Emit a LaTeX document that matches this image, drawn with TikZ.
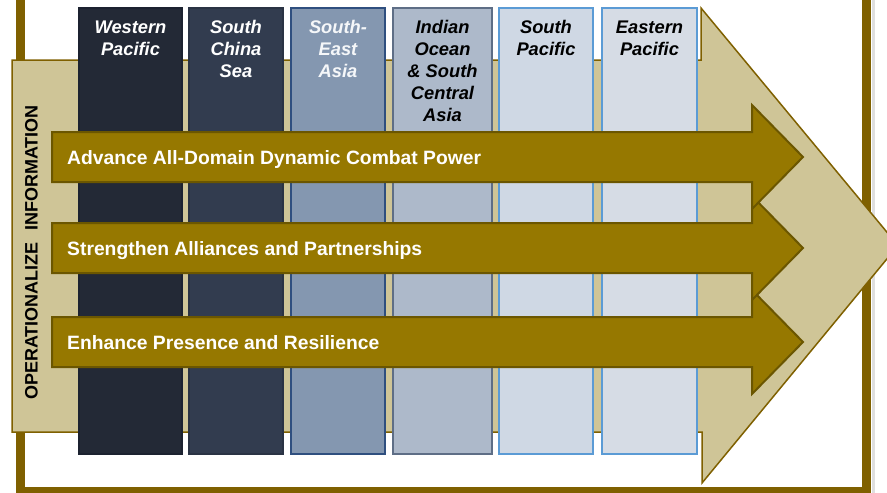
\documentclass[tikz,border=0pt]{standalone}
\usepackage{fontspec}
\setmainfont{Liberation Sans}
\definecolor{framegold}{HTML}{7F6000}
\definecolor{khaki}{HTML}{CFC597}
\definecolor{arrowgold}{HTML}{967800}
\definecolor{arrowline}{HTML}{6B5600}
\definecolor{colA}{HTML}{232936}
\definecolor{colAb}{HTML}{1C2230}
\definecolor{colB}{HTML}{323C4F}
\definecolor{colBb}{HTML}{2A3344}
\definecolor{colC}{HTML}{8497B0}
\definecolor{colCb}{HTML}{2F4F7F}
\definecolor{colD}{HTML}{ADB9CA}
\definecolor{colDb}{HTML}{5E6E86}
\definecolor{colE}{HTML}{CFD8E4}
\definecolor{colF}{HTML}{D6DCE5}
\definecolor{colEb}{HTML}{5B9BD5}
\tikzset{
  colbox/.style={line width=1.2pt},
  collabel/.style={anchor=north, inner sep=0pt, align=center,
    font=\fontsize{18.3}{22}\selectfont\bfseries\itshape},
  goldarrow/.style={fill=arrowgold, draw=arrowline, line width=2pt, line join=miter},
  arrowlabel/.style={anchor=base west, inner sep=0pt, text=white,
    font=\fontsize{19.3}{22}\selectfont\bfseries},
}
\begin{document}
\begin{tikzpicture}[x=1pt,y=-1pt]
\useasboundingbox (0,0) rectangle (887,493);
\begin{scope}
\clip (0,0) rectangle (887,493);
% shadow and frame
\draw[gray!25, line width=3pt] (873,-20) -- (873,497);
\draw[framegold, line width=9pt] (20,-20) rectangle (866,491);
% big arrow
\draw[fill=khaki, draw=framegold, line width=1.5pt, line join=miter]
  (12,60) -- (701,60) -- (701,8) -- (898,245.5) -- (702,483) -- (702,432) -- (12,432) -- cycle;
% columns
\draw[colbox, fill=colA, draw=colAb] (79,8) rectangle (182,454);
\draw[colbox, fill=colB, draw=colBb] (189,8) rectangle (283,454);
\draw[colbox, fill=colC, draw=colCb] (291,8) rectangle (385,454);
\draw[colbox, fill=colD, draw=colDb] (393,8) rectangle (492,454);
\draw[colbox, fill=colE, draw=colEb] (499,8) rectangle (593,454);
\draw[colbox, fill=colF, draw=colEb] (602,8) rectangle (697,454);
% gold arrows
\foreach \c in {342,248,157}{
  \draw[goldarrow] (52,\c-25) -- (752,\c-25) -- (752,\c-52) -- (803,\c)
    -- (752,\c+52) -- (752,\c+25) -- (52,\c+25) -- cycle;
}
\end{scope}
% column labels
\node[collabel, text=white] (wp) at (130.5,20) {\rule{0pt}{13pt}Western\\Pacific};
\node[collabel, text=white] (scs) at (236,20) {\rule{0pt}{13pt}South\\China\\Sea};
\node[collabel, text=white!92!colC] (sea) at (338,20) {\rule{0pt}{13pt}South-\\East\\Asia};
\node[collabel, text=black] (io) at (442.5,20) {\rule{0pt}{13pt}Indian\\Ocean\\\& South\\Central\\Asia};
\node[collabel, text=black] (sp) at (546,20) {\rule{0pt}{13pt}South\\Pacific};
\node[collabel, text=black] (ep) at (649.5,20) {\rule{0pt}{13pt}Eastern\\Pacific};
% arrow labels
\node[arrowlabel] (adv) at (67,164) {Advance All-Domain Dynamic Combat Power};
\node[arrowlabel] (str) at (67,255) {Strengthen Alliances and Partnerships};
\node[arrowlabel] (enh) at (67,349.5) {Enhance Presence and Resilience};
% side label
\node[rotate=90, inner sep=0pt, text=black, font=\fontsize{18}{20}\selectfont\bfseries]
  (opinf) at (31.5,252.5) {OPERATIONALIZE\hspace{0.35em} INFORMATION};
\end{tikzpicture}
\end{document}
